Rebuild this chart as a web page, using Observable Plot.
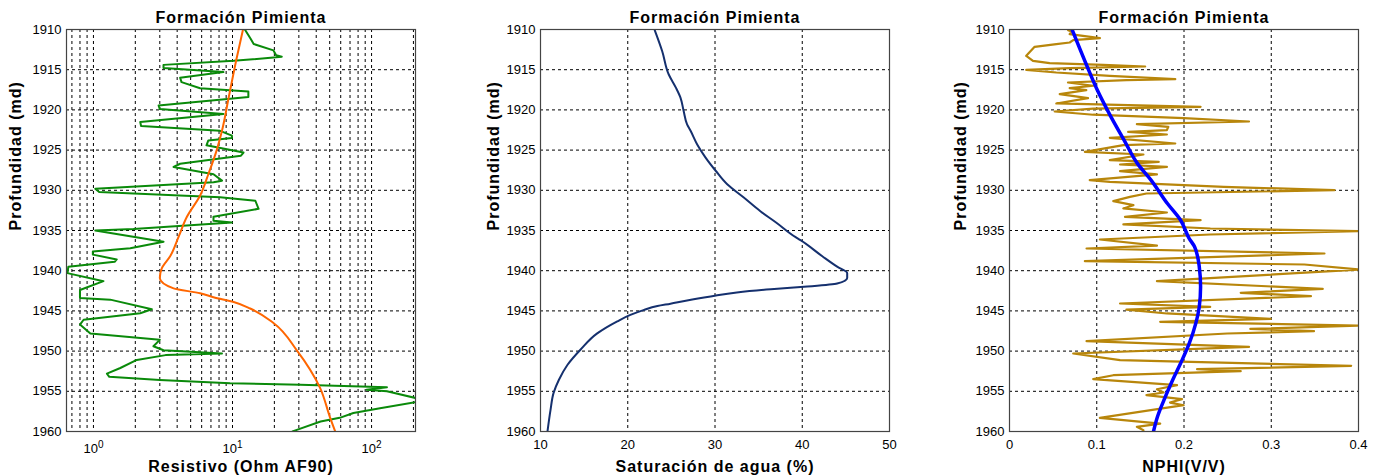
<!DOCTYPE html>
<html>
<head>
<meta charset="utf-8">
<script src="https://cdn.jsdelivr.net/npm/d3@7"></script>
<script src="https://cdn.jsdelivr.net/npm/@observablehq/plot@0.6"></script>
<style>
  html, body { margin: 0; padding: 0; background: #fff; }
  #wrap { position: relative; width: 1377px; height: 476px; overflow: hidden; background: #fff; }
  #wrap > div { position: absolute; top: 0; }
</style>
</head>
<body>
<div id="wrap">
  <div id="p1" style="left:0px"></div>
  <div id="p2" style="left:470px"></div>
  <div id="p3" style="left:940px"></div>
</div>
<script>
// ---------- data ----------
const title = "Formación Pimienta";
const yLabel = "Profundidad (md)";
const depthTicks = [1910, 1915, 1920, 1925, 1930, 1935, 1940, 1945, 1950, 1955, 1960];

// Panel 1: resistivity (green) and trend (orange)
const resDepth = [1910.04,1911.16,1911.8,1912.6,1913.2,1913.4,1913.9,1914.4,1914.8,1915.3,1916.0,1916.55,1917.3,1917.7,1918.4,1918.6,1919.45,1919.9,1920.5,1921.5,1922.0,1922.6,1923.2,1923.5,1923.8,1924.4,1925.3,1925.7,1926.7,1927.1,1928.0,1928.8,1929.0,1929.8,1930.2,1930.85,1931.3,1932.3,1933.3,1933.8,1934.0,1934.8,1935.0,1936.4,1937.2,1937.6,1938.0,1938.6,1938.9,1939.5,1940.3,1941.3,1942.4,1943.4,1943.6,1944.8,1945.3,1946.1,1946.7,1947.8,1948.6,1949.4,1949.9,1950.3,1950.5,1951.1,1952.1,1952.8,1953.2,1953.6,1954.0,1954.2,1954.5,1954.8,1955.0,1955.9,1956.3,1957.1,1957.7,1958.3,1958.75,1959.8,1960];
const resValue = [12.3,13.5,14.2,19.7,20.6,22.6,10.2,3.19,3.19,8.6,4.2,4.3,5.85,13.0,13.0,9.6,2.94,3.0,8.6,2.17,2.2,8.15,9.9,9.9,6.7,6.5,12.0,11.5,4.2,3.77,7.3,8.4,7.3,1.03,1.1,8.15,14.6,15.4,7.3,7.3,9.9,1.94,1.03,3.19,1.84,0.99,0.99,1.47,1.42,0.66,0.65,1.18,0.80,0.80,1.32,2.63,2.17,0.85,0.80,0.95,3.0,2.7,3.19,8.4,3.3,2.05,1.56,1.25,1.3,3.0,9.6,30.7,129,92,129,215,215,115,74,59,43,29,27];
const trendDepth = [1910,1913.6,1918.4,1922.6,1925.0,1928.0,1930.65,1933.3,1935.75,1938.2,1939.7,1940.9,1942.2,1942.8,1943.3,1943.9,1944.7,1946.5,1949.9,1954.6,1958.3,1960];
const trendValue = [11.9,10.7,9.4,8.4,7.7,6.7,5.85,4.7,4.1,3.56,3.1,3.0,3.77,5.85,7.3,10.2,13.4,19.7,29,42.7,50.4,54.8];
const resTicks = [1, 10, 100];
const resGrid = [0.7,0.8,0.9,1,2,3,4,5,6,7,8,9,10,20,30,40,50,60,70,80,90,100,200];

// Panel 2: water saturation
const swDepth = [1910.1,1912.7,1915.6,1917.2,1918.5,1920.1,1921.8,1922.6,1924.3,1925.9,1927.6,1929.25,1930.9,1932.6,1934.0,1935.8,1936.2,1938.2,1939.5,1940.3,1940.9,1941.6,1942.0,1942.3,1942.7,1943.2,1943.7,1944.1,1944.4,1944.9,1945.5,1946.3,1947.8,1949.8,1951.7,1953.6,1955.2,1957.3,1960];
const swValue = [23.1,23.95,24.7,25.5,26.05,26.4,26.8,27.2,27.96,28.9,30.1,31.4,33.3,35.2,37.0,39.2,39.8,42.3,44.0,45.15,45.15,44.0,40.2,36.4,32.5,29.5,26.8,24.9,23.4,21.8,20.3,18.8,16.5,14.6,13.1,12.1,11.5,11.15,10.8];
const swTicks = [10, 20, 30, 40, 50];

// Panel 3: NPHI (gold) and trend (blue)
const nphiDepth = [1910.08,1910.25,1910.58,1911.08,1911.33,1911.62,1911.82,1912.16,1913.28,1913.9,1914.19,1914.39,1914.6,1914.81,1915.02,1915.35,1915.76,1916.18,1916.3,1916.59,1917.0,1917.3,1917.55,1918.04,1918.54,1919.2,1919.62,1919.83,1920.2,1920.6,1921.03,1921.44,1921.77,1922.1,1922.52,1922.73,1923.06,1923.47,1924.18,1924.38,1925.22,1925.55,1926.25,1926.46,1926.79,1927.08,1927.62,1928.03,1928.74,1928.95,1929.57,1929.98,1930.4,1930.81,1931.35,1931.85,1932.26,1932.76,1933.3,1933.71,1934.25,1934.75,1935.08,1935.5,1936.12,1936.87,1937.24,1937.86,1938.81,1939.23,1939.85,1941.3,1942.26,1942.75,1943.17,1944.08,1944.5,1944.83,1945.32,1945.99,1946.36,1946.82,1947.24,1947.52,1947.81,1948.77,1949.47,1950.3,1951.13,1951.83,1952.25,1952.5,1953.0,1953.49,1954.24,1954.74,1955.15,1955.48,1955.98,1956.4,1956.73,1958.31,1959.01,1959.42,1959.84];
const nphiValue = [0.0672,0.071,0.069,0.1036,0.073,0.069,0.0537,0.0288,0.0192,0.0269,0.046,0.1075,0.1555,0.069,0.0192,0.0537,0.115,0.19,0.134,0.067,0.096,0.069,0.088,0.0576,0.09,0.0537,0.219,0.096,0.0518,0.096,0.2,0.2745,0.146,0.182,0.1804,0.136,0.1804,0.115,0.19,0.1305,0.0864,0.1535,0.115,0.171,0.1267,0.1804,0.1267,0.169,0.092,0.115,0.2457,0.3724,0.157,0.138,0.119,0.142,0.1305,0.1804,0.1324,0.219,0.1305,0.2303,0.401,0.23,0.1036,0.169,0.0883,0.361,0.0864,0.338,0.401,0.169,0.359,0.265,0.3455,0.1267,0.23,0.134,0.1804,0.2994,0.1727,0.399,0.276,0.349,0.2495,0.0883,0.2745,0.073,0.1267,0.3916,0.215,0.265,0.119,0.096,0.192,0.169,0.1766,0.157,0.1977,0.184,0.1996,0.1036,0.1727,0.146,0.1535];
const nphiTrendDepth = [1910,1914.6,1917.5,1920.8,1923.7,1926.65,1928.7,1931.65,1933.7,1936.0,1937.0,1939.5,1942.0,1944.5,1946.55,1949.05,1951.55,1953.6,1956.1,1958.2,1960];
const nphiTrendValue = [0.0717,0.089,0.1005,0.116,0.131,0.1465,0.162,0.181,0.196,0.206,0.212,0.2175,0.219,0.2175,0.2135,0.206,0.196,0.187,0.177,0.1695,0.165];
const nphiTicks = [0, 0.1, 0.2, 0.3, 0.4];

// ---------- drawing ----------
const zip = (ds, vs) => ds.map((d, i) => ({depth: d, value: vs[i]}));
const FONT = "'Liberation Sans', Arial, Helvetica, sans-serif";
const boldText = {fontWeight: "bold", fontSize: 16, fill: "black", fontFamily: FONT, lineAnchor: "middle"};

function panel({width, ml, mr, xScale, xGrid, xTicks, xFormat, xLabel, yLabOffset, lines}) {
  const svg = Plot.plot({
    width, height: 476,
    marginTop: 29, marginBottom: 45, marginLeft: ml, marginRight: mr,
    style: {fontFamily: FONT, fontSize: "13px", color: "black", background: "white", overflow: "visible"},
    x: xScale,
    y: {domain: [1910, 1960], reverse: true},
    marks: [
      Plot.gridX(xGrid, {stroke: "black", strokeOpacity: 1, strokeDasharray: "3,3", strokeWidth: 1}),
      Plot.gridY(depthTicks, {stroke: "black", strokeOpacity: 1, strokeDasharray: "3,3", strokeWidth: 1}),
      ...lines,
      Plot.frame({stroke: "#444", strokeWidth: 1.2}),
      Plot.axisY(depthTicks, {tickSize: 0, tickPadding: 5, tickFormat: d3.format("d"), label: null, fontSize: 13}),
      Plot.axisX(xTicks, {tickSize: 0, tickPadding: 8, tickFormat: xFormat, label: null, fontSize: 13}),
      Plot.text([title], {frameAnchor: "top", dy: -12, ...boldText}),
      Plot.text([xLabel], {frameAnchor: "bottom", dy: 35, ...boldText}),
      Plot.text([yLabel], {frameAnchor: "left", dx: -yLabOffset, rotate: -90, ...boldText})
    ]
  });
  d3.select(svg).selectAll("g[font-weight='bold'] text").attr("letter-spacing", "1px");
  return svg;
}

// Panel 1
const p1 = panel({
  width: 430, ml: 66, mr: 15,
  xScale: {type: "log", domain: [0.64, 207]},
  xGrid: resGrid, xTicks: resTicks,
  xFormat: d => "10^" + Math.round(Math.log10(d)),
  xLabel: "Resistivo (Ohm AF90)", yLabOffset: 51,
  lines: [
    Plot.line(zip(resDepth, resValue), {x: "value", y: "depth", stroke: "#0a8a0a", strokeWidth: 2, clip: true}),
    Plot.line(zip(trendDepth, trendValue), {x: "value", y: "depth", stroke: "#ff6600", strokeWidth: 2, curve: "monotone-y", clip: true})
  ]
});
// superscript exponents
d3.select(p1).selectAll("text").each(function() {
  const t = this.textContent;
  if (t.startsWith("10^")) {
    const exp = t.slice(3);
    const sel = d3.select(this);
    sel.text("10");
    sel.append("tspan").attr("dy", "-0.45em").attr("font-size", "10px").text(exp);
    sel.attr("dy", "0.3em");
  }
});
document.getElementById("p1").appendChild(p1);

// Panel 2
const p2 = panel({
  width: 430, ml: 70, mr: 11,
  xScale: {domain: [10, 50]},
  xGrid: swTicks, xTicks: swTicks, xFormat: d3.format("d"),
  xLabel: "Saturación de agua (%)", yLabOffset: 47,
  lines: [
    Plot.line(zip(swDepth, swValue), {x: "value", y: "depth", stroke: "#15306e", strokeWidth: 2, curve: "monotone-y", clip: true})
  ]
});
document.getElementById("p2").appendChild(p2);

// Panel 3
const p3 = panel({
  width: 437, ml: 69, mr: 19,
  xScale: {domain: [0, 0.4]},
  xGrid: nphiTicks, xTicks: nphiTicks, xFormat: d => String(d),
  xLabel: "NPHI(V/V)", yLabOffset: 49,
  lines: [
    Plot.line(zip(nphiDepth, nphiValue), {x: "value", y: "depth", stroke: "#b8860b", strokeWidth: 2.2, clip: true}),
    Plot.line(zip(nphiTrendDepth, nphiTrendValue), {x: "value", y: "depth", stroke: "#0000ff", strokeWidth: 3.5, curve: "monotone-y", clip: true})
  ]
});
document.getElementById("p3").appendChild(p3);
</script>
</body>
</html>
